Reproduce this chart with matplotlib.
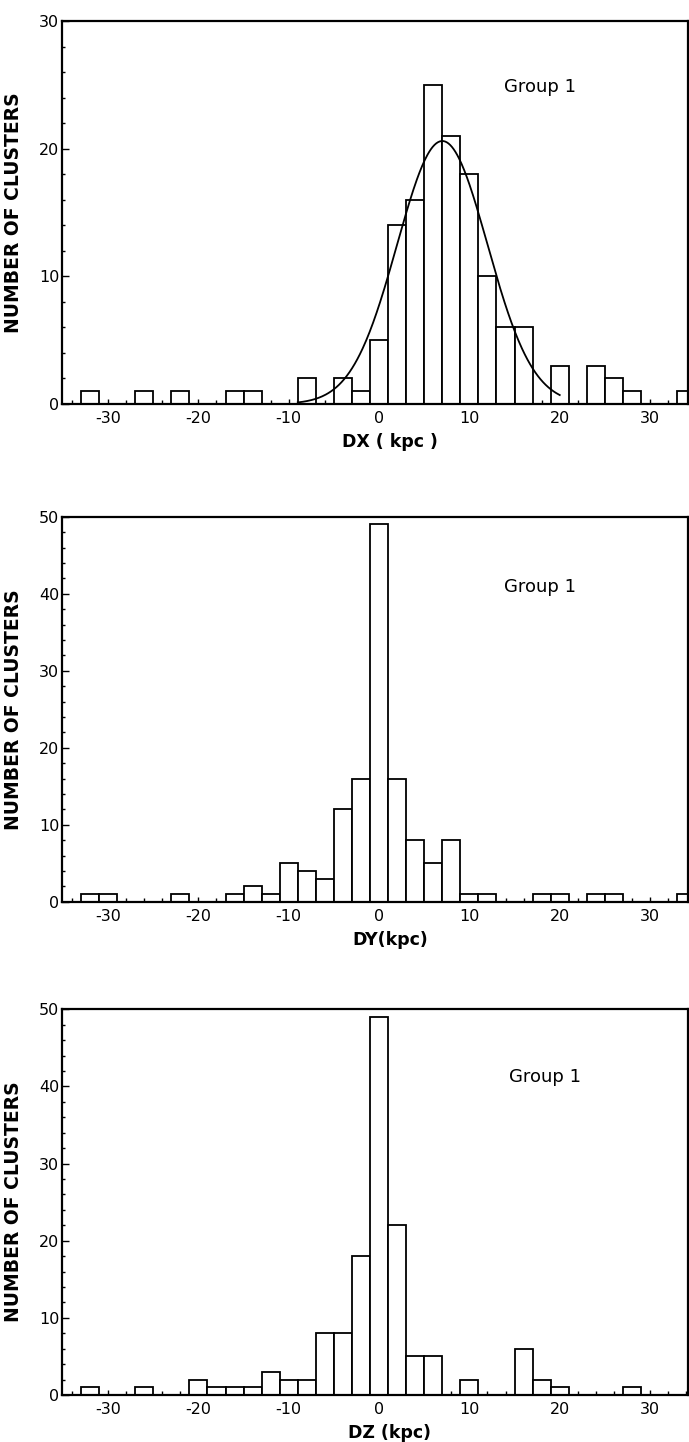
import numpy as np
import matplotlib
matplotlib.use("Agg")
import matplotlib.pyplot as plt
from matplotlib.ticker import MultipleLocator

# ---------------- data ----------------
bin_centers = [-34, -32, -30, -28, -26, -24, -22, -20, -18, -16, -14, -12, -10, -8, -6, -4, -2,
               0, 2, 4, 6, 8, 10, 12, 14, 16, 18, 20, 22, 24, 26, 28, 30, 32, 34]
bin_width = 2

dx_counts = [0, 1, 0, 0, 1, 0, 1, 0, 0, 1, 1, 0, 0, 2, 0, 2, 1,
             5, 14, 16, 25, 21, 18, 10, 6, 6, 0, 3, 0, 3, 2, 1, 0, 0, 1]
dy_counts = [0, 1, 1, 0, 0, 0, 1, 0, 0, 1, 2, 1, 5, 4, 3, 12, 16,
             49, 16, 8, 5, 8, 1, 1, 0, 0, 1, 1, 0, 1, 1, 0, 0, 0, 1]
dz_counts = [0, 1, 0, 0, 1, 0, 0, 2, 1, 1, 1, 3, 2, 2, 8, 8, 18,
             49, 22, 5, 5, 0, 2, 0, 0, 6, 2, 1, 0, 0, 0, 1, 0, 0, 0]

# Gaussian fit drawn on the DX panel
fit_amp = 20.6
fit_mean = 7.0
fit_sigma = 5.0
fit_range = (-9.0, 20.0)

xlabels = ["DX ( kpc )", "DY(kpc)", "DZ (kpc)"]
ylabel = "NUMBER OF CLUSTERS"
annot = "Group 1"
ymaxes = [30, 50, 50]
x_ticks = [-30, -20, -10, 0, 10, 20, 30]

# ---------------- layout ----------------
W, H = 689, 1442
fig = plt.figure(figsize=(W / 100, H / 100), dpi=100)
plt.rcParams['font.family'] = ['DejaVu Sans']

left_px, right_px = 62, 688
panels_px = [(21, 404), (516.7, 901.7), (1009.3, 1395)]
label_y_px = [442, 940, 1433]
annot_pos_px = [(540, 87), (540, 587), (545, 1077)]

counts_all = [dx_counts, dy_counts, dz_counts]

for i, (top, bot) in enumerate(panels_px):
    ax = fig.add_axes([left_px / W, 1 - bot / H, (right_px - left_px) / W, (bot - top) / H])
    ax.bar(bin_centers, counts_all[i], width=bin_width, color='white',
           edgecolor='black', linewidth=1.3, zorder=2)
    if i == 0:
        xs = np.linspace(fit_range[0], fit_range[1], 300)
        ys = fit_amp * np.exp(-0.5 * ((xs - fit_mean) / fit_sigma) ** 2)
        ax.plot(xs, ys, color='black', linewidth=1.3, zorder=3)

    ax.set_xlim(-35.1, 34.2)
    ax.set_ylim(0, ymaxes[i])
    ax.set_xticks(x_ticks)
    ax.set_xticklabels([str(t) for t in x_ticks])
    ax.xaxis.set_minor_locator(MultipleLocator(2))
    ax.set_yticks(np.arange(0, ymaxes[i] + 1, 10))
    ax.yaxis.set_minor_locator(MultipleLocator(2))
    ax.tick_params(axis='both', which='both', direction='in', color='black',
                   width=1.0, labelsize=11.5)
    ax.tick_params(axis='y', which='major', length=5, pad=2)
    ax.tick_params(axis='y', which='minor', length=2.5)
    ax.tick_params(axis='x', which='major', length=3.5, pad=5)
    ax.tick_params(axis='x', which='minor', length=3)
    for s in ax.spines.values():
        s.set_linewidth(1.6)
        s.set_zorder(4)

    ax.set_ylabel(ylabel, fontsize=13.5, fontweight='bold', labelpad=4)
    ax.yaxis.set_label_coords(-(left_px - 23) / (right_px - left_px), 0.5)
    ax.set_xlabel(xlabels[i], fontsize=12.5, fontweight='bold')
    ax.xaxis.set_label_coords((390 - left_px) / (right_px - left_px),
                              -(label_y_px[i] - bot) / (bot - top))
    ax.xaxis.label.set_va('center')

    ax_x, ax_y = annot_pos_px[i]
    fig.text(ax_x / W, 1 - ax_y / H, annot, fontsize=13, ha='center', va='center')

fig.savefig("out.png", dpi=100)
